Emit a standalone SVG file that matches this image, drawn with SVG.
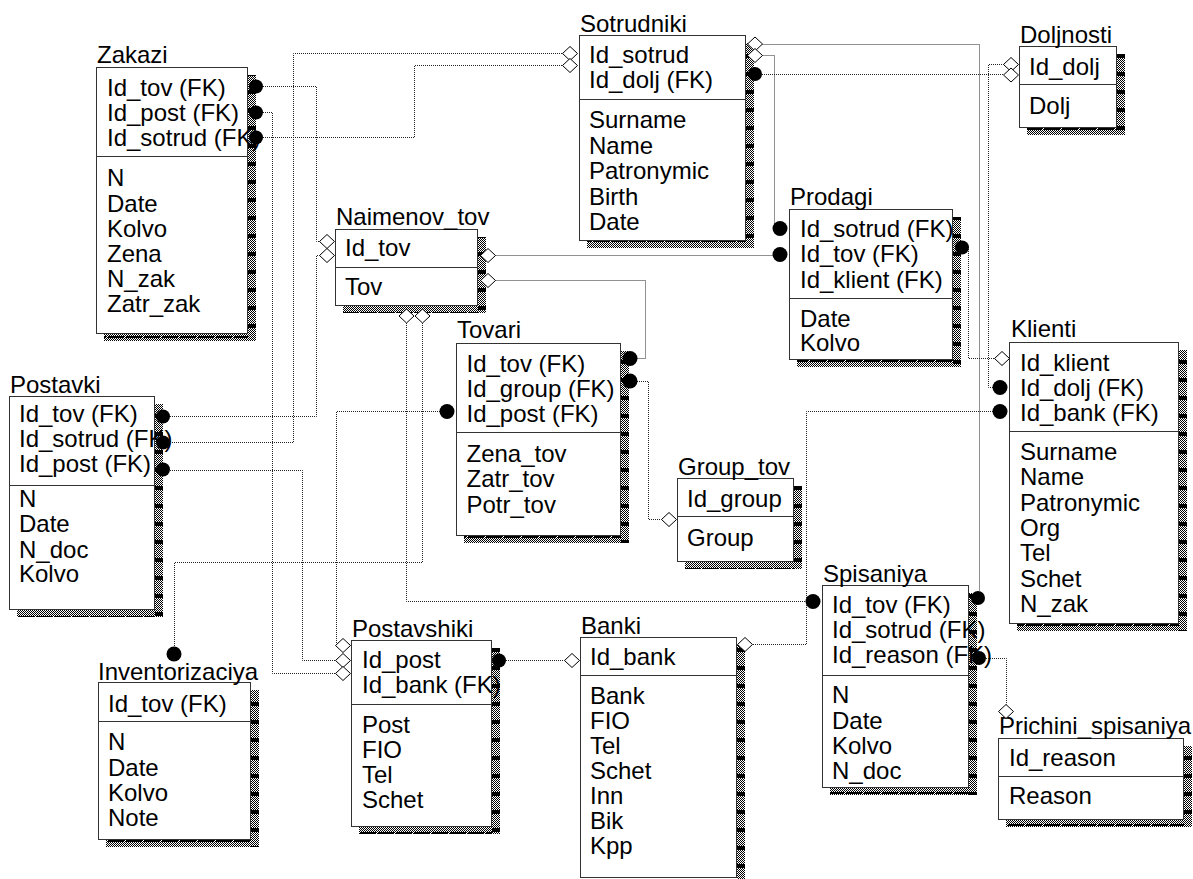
<svg xmlns="http://www.w3.org/2000/svg" width="1193" height="879" viewBox="0 0 1193 879">
<style>
.t{font-family:"Liberation Sans",Arial,sans-serif;font-size:24px;fill:#000}
.box{fill:#fff;stroke:#333;stroke-width:1}
.dv{stroke:#333;stroke-width:1}
.sr{fill:url(#shR)}
.sb{fill:url(#shB)}
.c{fill:none;stroke:#222;stroke-width:1;stroke-dasharray:1 1}
.dot{fill:#000}
.dia{fill:#fff;stroke:#000;stroke-width:1}
</style>
<defs>
<pattern id="dith" width="2" height="2" patternUnits="userSpaceOnUse"><rect width="2" height="2" fill="#fff"/><rect width="1" height="1" fill="#000"/><rect x="1" y="1" width="1" height="1" fill="#000"/></pattern>
<pattern id="shR" width="8" height="18" patternUnits="userSpaceOnUse"><rect width="8" height="18" fill="url(#dith)"/><rect width="8" height="4" fill="#000"/></pattern>
<pattern id="shB" width="18" height="8" patternUnits="userSpaceOnUse"><rect width="18" height="8" fill="url(#dith)"/><rect width="16" height="2" fill="#000"/></pattern>
<path id="dm" d="M-7.5,0 L0,-7 L7.5,0 L0,7 Z"/>
</defs>
<rect width="1193" height="879" fill="#fff"/>

<g id="zakazi">
<rect class="sr" x="248" y="75" width="8" height="266"/>
<rect class="sb" x="104" y="334" width="144" height="7"/>
<rect class="box" x="96.5" y="67.5" width="151" height="266"/>
<line class="dv" x1="96" y1="156.5" x2="248" y2="156.5"/>
<text class="t" x="97" y="62.5">Zakazi</text>
<text class="t" x="107" y="96">Id_tov (FK)</text>
<text class="t" x="107" y="121">Id_post (FK)</text>
<text class="t" x="107" y="146">Id_sotrud (FK)</text>
<text class="t" x="107" y="186">N</text>
<text class="t" x="107" y="211.5">Date</text>
<text class="t" x="107" y="236.5">Kolvo</text>
<text class="t" x="107" y="262">Zena</text>
<text class="t" x="107" y="287">N_zak</text>
<text class="t" x="107" y="312">Zatr_zak</text>
</g>

<g id="sotrudniki">
<rect class="sr" x="746" y="43" width="8" height="205"/>
<rect class="sb" x="587" y="241" width="159" height="7"/>
<rect class="box" x="579.5" y="35.5" width="166" height="205"/>
<line class="dv" x1="579" y1="99.5" x2="746" y2="99.5"/>
<text class="t" x="580" y="31.5">Sotrudniki</text>
<text class="t" x="589" y="63">Id_sotrud</text>
<text class="t" x="589" y="88">Id_dolj (FK)</text>
<text class="t" x="589" y="128">Surname</text>
<text class="t" x="589" y="153.5">Name</text>
<text class="t" x="589" y="179">Patronymic</text>
<text class="t" x="589" y="204.5">Birth</text>
<text class="t" x="589" y="230">Date</text>
</g>

<g id="doljnosti">
<rect class="sr" x="1117" y="54" width="8" height="81"/>
<rect class="sb" x="1027" y="128" width="90" height="7"/>
<rect class="box" x="1019.5" y="46.5" width="97" height="81"/>
<line class="dv" x1="1019" y1="84.5" x2="1117" y2="84.5"/>
<text class="t" x="1020" y="43">Doljnosti</text>
<text class="t" x="1029" y="75">Id_dolj</text>
<text class="t" x="1029" y="113.5">Dolj</text>
</g>

<g id="naimenov_tov">
<rect class="sr" x="478" y="237" width="8" height="76"/>
<rect class="sb" x="343" y="306" width="135" height="7"/>
<rect class="box" x="335.5" y="229.5" width="142" height="76"/>
<line class="dv" x1="335" y1="267.5" x2="478" y2="267.5"/>
<text class="t" x="336" y="225">Naimenov_tov</text>
<text class="t" x="345" y="256">Id_tov</text>
<text class="t" x="345" y="295">Tov</text>
</g>

<g id="prodagi">
<rect class="sr" x="953" y="217" width="8" height="150"/>
<rect class="sb" x="797" y="360" width="156" height="7"/>
<rect class="box" x="789.5" y="209.5" width="163" height="150"/>
<line class="dv" x1="789" y1="298.5" x2="953" y2="298.5"/>
<text class="t" x="790" y="205">Prodagi</text>
<text class="t" x="800" y="237">Id_sotrud (FK)</text>
<text class="t" x="800" y="262">Id_tov (FK)</text>
<text class="t" x="800" y="287.5">Id_klient (FK)</text>
<text class="t" x="800" y="326.5">Date</text>
<text class="t" x="800" y="351">Kolvo</text>
</g>

<g id="tovari">
<rect class="sr" x="621" y="351" width="8" height="192"/>
<rect class="sb" x="464" y="536" width="157" height="7"/>
<rect class="box" x="456.5" y="343.5" width="164" height="192"/>
<line class="dv" x1="456" y1="432.5" x2="621" y2="432.5"/>
<text class="t" x="457" y="338">Tovari</text>
<text class="t" x="466.5" y="371.5">Id_tov (FK)</text>
<text class="t" x="466.5" y="397">Id_group (FK)</text>
<text class="t" x="466.5" y="422">Id_post (FK)</text>
<text class="t" x="466.5" y="461.5">Zena_tov</text>
<text class="t" x="466.5" y="487">Zatr_tov</text>
<text class="t" x="466.5" y="512.5">Potr_tov</text>
</g>

<g id="group_tov">
<rect class="sr" x="794" y="486" width="8" height="83"/>
<rect class="sb" x="685" y="562" width="109" height="7"/>
<rect class="box" x="677.5" y="478.5" width="116" height="83"/>
<line class="dv" x1="677" y1="516.5" x2="794" y2="516.5"/>
<text class="t" x="678" y="475">Group_tov</text>
<text class="t" x="687" y="507">Id_group</text>
<text class="t" x="687" y="546">Group</text>
</g>

<g id="klienti">
<rect class="sr" x="1179" y="350" width="8" height="281"/>
<rect class="sb" x="1017" y="624" width="162" height="7"/>
<rect class="box" x="1009.5" y="342.5" width="169" height="281"/>
<line class="dv" x1="1009" y1="431.5" x2="1179" y2="431.5"/>
<text class="t" x="1011" y="336.5">Klienti</text>
<text class="t" x="1020" y="370.5">Id_klient</text>
<text class="t" x="1020" y="395.5">Id_dolj (FK)</text>
<text class="t" x="1020" y="420.5">Id_bank (FK)</text>
<text class="t" x="1020" y="459.5">Surname</text>
<text class="t" x="1020" y="485">Name</text>
<text class="t" x="1020" y="510.5">Patronymic</text>
<text class="t" x="1020" y="535.5">Org</text>
<text class="t" x="1020" y="561">Tel</text>
<text class="t" x="1020" y="586.5">Schet</text>
<text class="t" x="1020" y="612">N_zak</text>
</g>

<g id="postavki">
<rect class="sr" x="155" y="404" width="8" height="213"/>
<rect class="sb" x="17" y="610" width="138" height="7"/>
<rect class="box" x="9.5" y="396.5" width="145" height="213"/>
<line class="dv" x1="9" y1="485.5" x2="155" y2="485.5"/>
<text class="t" x="10" y="392.5">Postavki</text>
<text class="t" x="19" y="421.5">Id_tov (FK)</text>
<text class="t" x="19" y="446.5">Id_sotrud (FK)</text>
<text class="t" x="19" y="471.5">Id_post (FK)</text>
<text class="t" x="19" y="507">N</text>
<text class="t" x="19" y="532">Date</text>
<text class="t" x="19" y="557.5">N_doc</text>
<text class="t" x="19" y="582">Kolvo</text>
</g>

<g id="postavshiki">
<rect class="sr" x="492" y="648" width="8" height="186"/>
<rect class="sb" x="359" y="827" width="133" height="7"/>
<rect class="box" x="351.5" y="640.5" width="140" height="186"/>
<line class="dv" x1="351" y1="704.5" x2="492" y2="704.5"/>
<text class="t" x="352" y="637">Postavshiki</text>
<text class="t" x="362" y="668">Id_post</text>
<text class="t" x="362" y="693">Id_bank (FK)</text>
<text class="t" x="362" y="733">Post</text>
<text class="t" x="362" y="758">FIO</text>
<text class="t" x="362" y="783">Tel</text>
<text class="t" x="362" y="808">Schet</text>
</g>

<g id="banki">
<rect class="sr" x="737" y="645" width="8" height="234"/>
<rect class="box" x="580.5" y="637.5" width="156" height="240"/>
<line class="dv" x1="580" y1="675.5" x2="737" y2="675.5"/>
<text class="t" x="581" y="634">Banki</text>
<text class="t" x="590" y="665">Id_bank</text>
<text class="t" x="590" y="704">Bank</text>
<text class="t" x="590" y="729">FIO</text>
<text class="t" x="590" y="754">Tel</text>
<text class="t" x="590" y="779">Schet</text>
<text class="t" x="590" y="804">Inn</text>
<text class="t" x="590" y="829">Bik</text>
<text class="t" x="590" y="854">Kpp</text>
</g>

<g id="spisaniya">
<rect class="sr" x="969" y="593" width="8" height="202"/>
<rect class="sb" x="830" y="788" width="139" height="7"/>
<rect class="box" x="822.5" y="585.5" width="146" height="202"/>
<line class="dv" x1="822" y1="675.5" x2="969" y2="675.5"/>
<text class="t" x="823" y="581.5">Spisaniya</text>
<text class="t" x="832" y="613">Id_tov (FK)</text>
<text class="t" x="832" y="638">Id_sotrud (FK)</text>
<text class="t" x="832" y="663">Id_reason (FK)</text>
<text class="t" x="832" y="703">N</text>
<text class="t" x="832" y="728.5">Date</text>
<text class="t" x="832" y="754">Kolvo</text>
<text class="t" x="832" y="779">N_doc</text>
</g>

<g id="prichini_spisaniya">
<rect class="sr" x="1184" y="746" width="8" height="81"/>
<rect class="sb" x="1006" y="820" width="178" height="7"/>
<rect class="box" x="998.5" y="738.5" width="185" height="81"/>
<line class="dv" x1="998" y1="776.5" x2="1184" y2="776.5"/>
<text class="t" x="999" y="734">Prichini_spisaniya</text>
<text class="t" x="1009" y="766">Id_reason</text>
<text class="t" x="1009" y="804">Reason</text>
</g>

<g id="inventorizaciya">
<rect class="sr" x="251" y="690" width="8" height="157"/>
<rect class="sb" x="106" y="840" width="145" height="7"/>
<rect class="box" x="98.5" y="682.5" width="152" height="157"/>
<line class="dv" x1="98" y1="721.5" x2="251" y2="721.5"/>
<text class="t" x="98" y="680">Inventorizaciya</text>
<text class="t" x="108" y="712">Id_tov (FK)</text>
<text class="t" x="108" y="750">N</text>
<text class="t" x="108" y="775.5">Date</text>
<text class="t" x="108" y="801">Kolvo</text>
<text class="t" x="108" y="826">Note</text>
</g>

<g id="connectors">
<path class="c" d="M263,86.5 H316.5 V241.5 H319.5"/>
<path class="c" d="M170,416.5 H316.5 V255.5 H319.5"/>
<path class="c" d="M263,112.5 H272.5 V673.5 H335.5"/>
<path class="c" d="M263,137.5 H414.5 V65.5 H562.5"/>
<path class="c" d="M170,442.5 H293.5 V53.5 H562.5"/>
<path class="c" d="M170,470.5 H302.5 V660.5 H335.5"/>
<path class="c" d="M440,411.5 H336.5 V645.5"/>
<path class="c" d="M495.5,255.5 H773"/>
<path class="c" d="M495.5,280.5 H645.5 V358.5 H637"/>
<path class="c" d="M637,381.5 H648.5 V519.5 H661.5"/>
<path class="c" d="M406.5,323 V601.5 H806"/>
<path class="c" d="M422.5,323 V562.5 H174.5 V647"/>
<path class="c" d="M762.5,44.5 H979.5 V591"/>
<path class="c" d="M762.5,55.5 H774.5 V228.5 H773"/>
<path class="c" d="M762,74.5 H1003.5"/>
<path class="c" d="M993,387.5 H988.5 V64.5 H1003.5"/>
<path class="c" d="M969,247.5 H968.5 V358.5 H994.5"/>
<path class="c" d="M993,411.5 H806.5 V644.5 H752.5"/>
<path class="c" d="M506,660.5 H564.5"/>
<path class="c" d="M986,658.5 H1006.5 V704.5"/>

<circle class="dot" cx="256" cy="86.5" r="7"/>
<circle class="dot" cx="256" cy="112.5" r="7"/>
<circle class="dot" cx="256" cy="137.5" r="7"/>
<circle class="dot" cx="163" cy="416.5" r="7"/>
<circle class="dot" cx="163" cy="442.5" r="7"/>
<circle class="dot" cx="163" cy="469.5" r="7"/>
<circle class="dot" cx="630" cy="358.5" r="7.5"/>
<circle class="dot" cx="630" cy="381" r="7.5"/>
<circle class="dot" cx="447" cy="411.5" r="7.5"/>
<circle class="dot" cx="780" cy="228.5" r="7.5"/>
<circle class="dot" cx="780" cy="254.5" r="7.5"/>
<circle class="dot" cx="962" cy="247.5" r="7"/>
<circle class="dot" cx="1000" cy="387.5" r="7.5"/>
<circle class="dot" cx="1000" cy="411.5" r="7.5"/>
<circle class="dot" cx="813" cy="601.5" r="7.5"/>
<circle class="dot" cx="978" cy="598" r="7"/>
<circle class="dot" cx="979" cy="658" r="7"/>
<circle class="dot" cx="499" cy="660.5" r="7"/>
<circle class="dot" cx="755" cy="74" r="7"/>
<circle class="dot" cx="174" cy="654" r="7.5"/>

<use href="#dm" class="dia" x="570" y="53.5"/>
<use href="#dm" class="dia" x="570" y="65.5"/>
<use href="#dm" class="dia" x="755" y="44"/>
<use href="#dm" class="dia" x="755" y="55.5"/>
<use href="#dm" class="dia" x="1011" y="64.5"/>
<use href="#dm" class="dia" x="1011" y="75"/>
<use href="#dm" class="dia" x="327" y="241.5"/>
<use href="#dm" class="dia" x="327" y="255.5"/>
<use href="#dm" class="dia" x="488" y="255.5"/>
<use href="#dm" class="dia" x="488" y="280.5"/>
<use href="#dm" class="dia" x="406.5" y="316"/>
<use href="#dm" class="dia" x="422.5" y="316"/>
<use href="#dm" class="dia" x="669" y="519.5"/>
<use href="#dm" class="dia" x="1002" y="358.5"/>
<use href="#dm" class="dia" x="343" y="645.5"/>
<use href="#dm" class="dia" x="343" y="660.5"/>
<use href="#dm" class="dia" x="343" y="673.5"/>
<use href="#dm" class="dia" x="572" y="660.5"/>
<use href="#dm" class="dia" x="745" y="644.5"/>
<use href="#dm" class="dia" x="1006" y="711.5"/>
</g>
</svg>
